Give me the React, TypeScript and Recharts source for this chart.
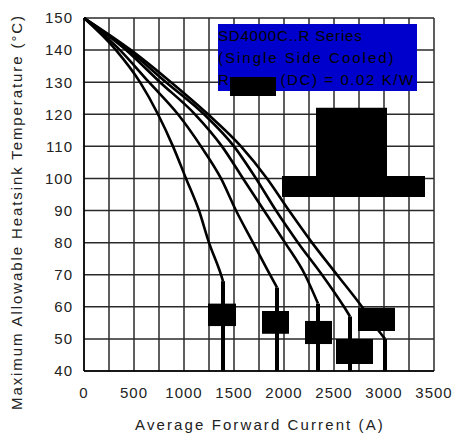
import React from 'react';
import { LineChart, Line, XAxis, YAxis, CartesianGrid, ReferenceArea, Label } from 'recharts';

// derating curves, current (A) vs max heatsink temp (°C)
const curve1 = [
  { i: 0, t: 150 }, { i: 320, t: 140 }, { i: 560, t: 130 }, { i: 740, t: 120 },
  { i: 890, t: 110 }, { i: 1020, t: 100 }, { i: 1150, t: 90 }, { i: 1250, t: 80 },
  { i: 1370, t: 70 }, { i: 1390, t: 68 },
];
const curve2 = [
  { i: 0, t: 150 }, { i: 360, t: 140 }, { i: 650, t: 130 }, { i: 940, t: 120 },
  { i: 1170, t: 110 }, { i: 1370, t: 100 }, { i: 1520, t: 90 }, { i: 1690, t: 80 },
  { i: 1860, t: 70 }, { i: 1930, t: 66 },
];
const curve3 = [
  { i: 0, t: 150 }, { i: 420, t: 140 }, { i: 760, t: 130 }, { i: 1110, t: 120 },
  { i: 1380, t: 110 }, { i: 1590, t: 100 }, { i: 1800, t: 90 }, { i: 2010, t: 80 },
  { i: 2210, t: 70 }, { i: 2340, t: 61 },
];
const curve4 = [
  { i: 0, t: 150 }, { i: 445, t: 140 }, { i: 820, t: 130 }, { i: 1200, t: 120 },
  { i: 1500, t: 110 }, { i: 1720, t: 100 }, { i: 1920, t: 90 }, { i: 2140, t: 80 },
  { i: 2380, t: 70 }, { i: 2600, t: 60 }, { i: 2660, t: 57 },
];
const curve5 = [
  { i: 0, t: 150 }, { i: 470, t: 140 }, { i: 870, t: 130 }, { i: 1240, t: 120 },
  { i: 1570, t: 110 }, { i: 1830, t: 100 }, { i: 2050, t: 90 }, { i: 2280, t: 80 },
  { i: 2530, t: 70 }, { i: 2780, t: 60 }, { i: 2960, t: 52 }, { i: 3010, t: 50 },
];
const curves = [curve1, curve2, curve3, curve4, curve5];

// vertical drop at the end of each curve
const dropCurrents = [1390, 1930, 2340, 2660, 3010];
const dropTemps = [68, 66, 61, 57, 50];

const xTicks = [0, 250, 500, 750, 1000, 1250, 1500, 1750, 2000, 2250, 2500, 2750, 3000, 3250, 3500];
const yTicks = [40, 50, 60, 70, 80, 90, 100, 110, 120, 130, 140, 150];

// blacked-out label boxes [x1, x2, y1, y2]
const blockouts = [
  [1240, 1520, 54, 61],
  [1780, 2050, 51.6, 58.7],
  [2210, 2480, 48.4, 55.6],
  [2520, 2890, 42.2, 50],
  [2740, 3110, 52.5, 59.7],
  [2320, 3030, 100.5, 122],
  [1980, 3410, 94.2, 100.8],
];

const font = '"Liberation Sans", Arial, sans-serif';
const tickStyle = { fontSize: 15, fill: '#222', fontFamily: font, letterSpacing: 1 };

export default function App() {
  return (
    <div style={{ position: 'fixed', left: 0, top: 0, width: 454, height: 439, background: '#fff' }}>
      <LineChart width={454} height={439} margin={{ top: 18, right: 20, bottom: 28, left: 24 }}>
        <CartesianGrid stroke="#2a2a2a" strokeWidth={1.5} />
        <XAxis
          type="number"
          dataKey="i"
          domain={[0, 3500]}
          ticks={xTicks}
          interval={0}
          tickFormatter={(v: number) => (v % 500 === 0 ? String(v) : '')}
          tick={tickStyle}
          tickLine={false}
          tickSize={0}
          tickMargin={16}
          height={40}
          stroke="#000"
          strokeWidth={1.5}
        >
          <Label
            content={() => (
              <text x={260} y={430} textAnchor="middle" fontSize={15} fill="#222" fontFamily={font} letterSpacing={2.1}>
                Average Forward Current (A)
              </text>
            )}
          />
        </XAxis>
        <YAxis
          type="number"
          dataKey="t"
          domain={[40, 150]}
          ticks={yTicks}
          interval={0}
          tick={tickStyle}
          tickLine={false}
          tickSize={0}
          tickMargin={11}
          width={60}
          stroke="#000"
          strokeWidth={1.5}
        >
          <Label
            content={() => (
              <text
                x={22}
                y={212}
                transform="rotate(-90 22 212)"
                textAnchor="middle"
                fontSize={15}
                fill="#222"
                fontFamily={font}
                letterSpacing={1.9}
              >
                Maximum Allowable Heatsink Temperature (°C)
              </text>
            )}
          />
        </YAxis>
        {curves.map((c, k) => (
          <Line
            key={`c${k}`}
            data={c}
            dataKey="t"
            type="monotone"
            stroke="#000"
            strokeWidth={2.6}
            dot={false}
            activeDot={false}
            isAnimationActive={false}
          />
        ))}
        {dropCurrents.map((x, k) => (
          <Line
            key={`d${k}`}
            data={[{ i: x, t: dropTemps[k] }, { i: x, t: 40 }]}
            dataKey="t"
            type="linear"
            stroke="#000"
            strokeWidth={4}
            dot={false}
            activeDot={false}
            isAnimationActive={false}
          />
        ))}
        {blockouts.map((b, k) => (
          <ReferenceArea
            key={`b${k}`}
            x1={b[0]}
            x2={b[1]}
            y1={b[2]}
            y2={b[3]}
            fill="#000"
            fillOpacity={1}
            stroke="none"
            zIndex={1000}
          />
        ))}
      </LineChart>
      <div
        style={{
          position: 'absolute',
          left: 218,
          top: 24,
          width: 199,
          height: 67,
          background: '#0000CC',
          fontFamily: font,
          fontSize: 15,
          color: '#000',
          lineHeight: '22px',
          whiteSpace: 'nowrap',
          paddingTop: 1,
          boxSizing: 'border-box',
        }}
      >
        <div style={{ letterSpacing: 0.8 }}>SD4000C..R Series</div>
        <div style={{ letterSpacing: 2 }}>(Single Side Cooled)</div>
        <div style={{ letterSpacing: 1.6 }}>
          R<span style={{ display: 'inline-block', width: 50 }} />(DC) = 0.02 K/W
        </div>
        <div style={{ position: 'absolute', left: 12, top: 53, width: 46, height: 19, background: '#000' }} />
      </div>
    </div>
  );
}
